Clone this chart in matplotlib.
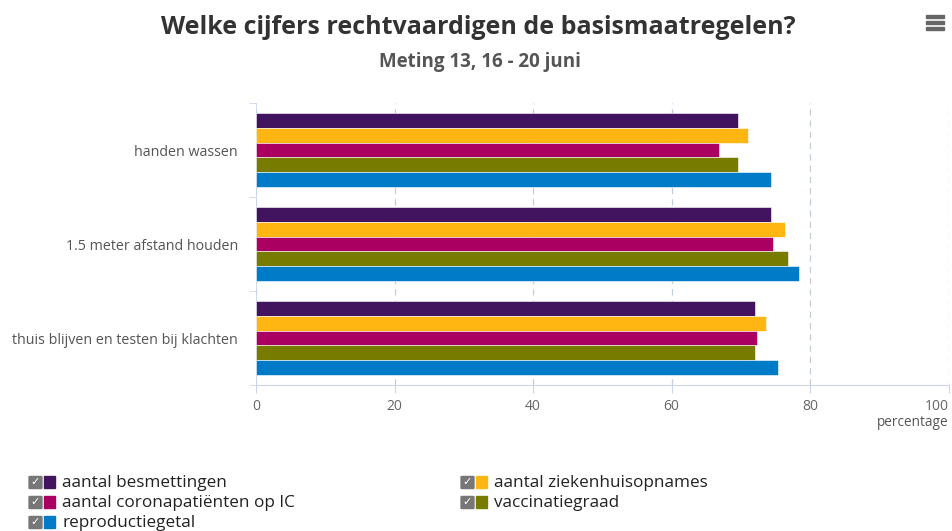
import matplotlib
matplotlib.use("Agg")
import matplotlib.pyplot as plt
from matplotlib.patches import FancyBboxPatch, Rectangle
import numpy as np

plt.rcParams['font.family'] = ['Open Sans', 'DejaVu Sans']

categories = ["handen wassen", "1.5 meter afstand houden", "thuis blijven en testen bij klachten"]
series_names = ["aantal besmettingen", "aantal ziekenhuisopnames", "aantal coronapatiënten op IC",
                "vaccinatiegraad", "reproductiegetal"]
series_colors = ["#42145f", "#ffb612", "#a90061", "#777c00", "#007bc7"]
values = {
    "aantal besmettingen":          [69.6, 74.4, 72.1],
    "aantal ziekenhuisopnames":     [71.0, 76.4, 73.7],
    "aantal coronapatiënten op IC": [66.9, 74.6, 72.3],
    "vaccinatiegraad":              [69.6, 76.8, 72.0],
    "reproductiegetal":             [74.3, 78.4, 75.4],
}
x_ticks = [0, 20, 40, 60, 80, 100]

fig = plt.figure(figsize=(9.52, 5.31), dpi=100)
ax = fig.add_axes([256/952, 1-385/531, 692.5/952, 282/531])

n = len(series_names)
group_w = 0.78
bar_h = group_w / n
y = np.arange(len(categories))
for i, (name, col) in enumerate(zip(series_names, series_colors)):
    offs = -group_w/2 + bar_h*(i+0.5)
    ax.barh(y + offs, values[name], height=bar_h, color=col, edgecolor='white', linewidth=0.4, zorder=3)

ax.set_xlim(0, 100)
ax.set_ylim(len(categories)-0.5, -0.5)
ax.set_xticks(x_ticks)
ax.set_xticklabels([str(t) for t in x_ticks])
ax.set_yticks(y)
ax.set_yticklabels(categories)
ax.set_yticks(np.arange(len(categories)+1)-0.5, minor=True)
ax.tick_params(axis='y', which='major', length=0, pad=13, labelsize=10.3, labelcolor='#555555')
ax.tick_params(axis='y', which='minor', length=5, color='#ccd6eb', direction='out')
ax.tick_params(axis='x', length=6, color='#ccd6eb', pad=4, labelsize=10, labelcolor='#666666')
xt = ax.get_xticklabels()
xt[-1].set_horizontalalignment('right')
ax.grid(axis='x', linestyle=(0, (5, 4)), color='#c2cddd', linewidth=0.9, zorder=0)
for s in ['top', 'right']:
    ax.spines[s].set_visible(False)
ax.spines['bottom'].set_color('#ccd6eb')
ax.spines['left'].set_color('#ccd6eb')
ax.spines['left'].set_linewidth(0.6)

fig.text(948/952, 1-422/531, "percentage", ha='right', va='center', fontsize=9.8, color='#555555')

fig.text(478/952, 1-28/531, "Welke cijfers rechtvaardigen de basismaatregelen?", ha='center', va='center',
         fontsize=18, fontweight='bold', color='#333333')
fig.text(480/952, 1-62/531, "Meting 13, 16 - 20 juni", ha='center', va='center',
         fontsize=13.5, fontweight='bold', color='#555555')

# hamburger icon
for yy in [16, 22, 28]:
    fig.add_artist(Rectangle(((926)/952, 1-(yy+2)/531), 18/952, 3.5/531, transform=fig.transFigure,
                             color='#666666'))

# legend
leg_pos = [(30, 482), (462, 482), (30, 502), (462, 502), (30, 522)]
for (lx, ly), name, col in zip(leg_pos, series_names, series_colors):
    fig.add_artist(FancyBboxPatch((lx/952, 1-(ly+6)/531), 11/952, 11/531,
                                  boxstyle="round,pad=0.001", transform=fig.transFigure,
                                  facecolor='#777777', edgecolor='#777777'))
    fig.text((lx+5.5)/952, 1-(ly+0.5)/531, "✓", ha='center', va='center', fontsize=8,
             color='white', family='DejaVu Sans', fontweight='bold')
    fig.add_artist(Rectangle(((lx+14)/952, 1-(ly+6)/531), 11/952, 12/531, transform=fig.transFigure,
                             color=col))
    fig.text((lx+32)/952, 1-(ly+1)/531, name, ha='left', va='center', fontsize=12.3, color='#222222')

fig.savefig("out.png", dpi=100)
